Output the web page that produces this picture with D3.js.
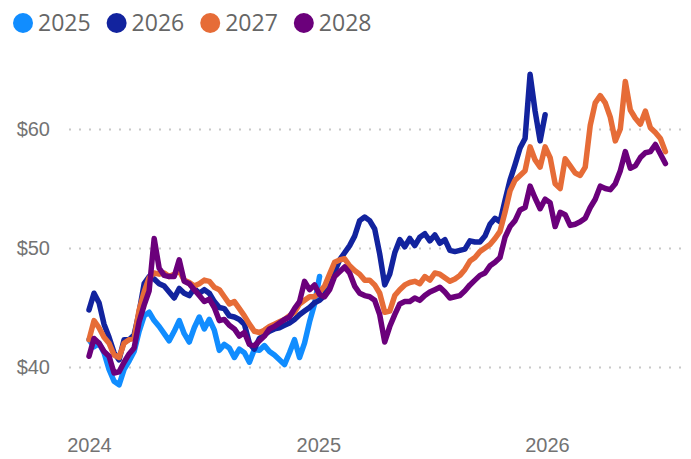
<!DOCTYPE html>
<html>
<head>
<meta charset="utf-8">
<script src="https://cdn.jsdelivr.net/npm/d3@7"></script>
<style>
  body { margin: 0; background: #fff; }
  svg { display: block; font-family: "Segoe UI", "Open Sans", sans-serif; }
</style>
</head>
<body>
<div id="chart"></div>
<script>
var svgWidth = 691;
var svgHeight = 459;

// sample dates (about every 8 days)
var dates = [
  "2024-01-01","2024-01-09","2024-01-17","2024-01-25","2024-02-02","2024-02-10","2024-02-18","2024-02-26",
  "2024-03-05","2024-03-13","2024-03-21","2024-03-29","2024-04-06","2024-04-14","2024-04-22","2024-04-30",
  "2024-05-08","2024-05-16","2024-05-24","2024-06-01","2024-06-09","2024-06-17","2024-06-25","2024-07-03",
  "2024-07-11","2024-07-19","2024-07-27","2024-08-04","2024-08-12","2024-08-20","2024-08-28","2024-09-05",
  "2024-09-13","2024-09-21","2024-09-29","2024-10-07","2024-10-15","2024-10-23","2024-10-31","2024-11-08",
  "2024-11-16","2024-11-24","2024-12-02","2024-12-10","2024-12-18","2024-12-26","2025-01-03","2025-01-11",
  "2025-01-19","2025-01-27","2025-02-04","2025-02-12","2025-02-20","2025-02-28","2025-03-08","2025-03-16",
  "2025-03-24","2025-04-01","2025-04-09","2025-04-17","2025-04-25","2025-05-03","2025-05-11","2025-05-19",
  "2025-05-27","2025-06-04","2025-06-12","2025-06-20","2025-06-28","2025-07-06","2025-07-14","2025-07-22",
  "2025-07-30","2025-08-07","2025-08-15","2025-08-23","2025-08-31","2025-09-08","2025-09-16","2025-09-24",
  "2025-10-02","2025-10-10","2025-10-18","2025-10-26","2025-11-03","2025-11-11","2025-11-19","2025-11-27",
  "2025-12-05","2025-12-13","2025-12-21","2025-12-29","2026-01-06","2026-01-14","2026-01-22","2026-01-30",
  "2026-02-07","2026-02-15","2026-02-23","2026-03-03","2026-03-11","2026-03-19","2026-03-27","2026-04-04",
  "2026-04-12","2026-04-20","2026-04-28","2026-05-06","2026-05-14","2026-05-22","2026-05-30","2026-06-07",
  "2026-06-15","2026-06-23","2026-07-01","2026-07-09"
];

var seriesNames = ["2025", "2026", "2027", "2028"];
var colors = ["#118DFF", "#12239E", "#E66C37", "#6B007B"];

var values2025 = [
  42.3,41.7,42.0,41.2,39.8,38.8,38.5,39.8,40.5,41.3,43.0,44.3,44.6,43.9,43.4,42.8,
  42.2,43.0,43.9,42.8,42.1,43.3,44.2,43.2,44.0,43.1,41.4,41.9,41.6,40.8,41.5,41.2,
  40.4,41.5,41.4,41.8,41.3,41.0,40.6,40.2,41.2,42.3,40.8,42.0,43.8,45.3,47.6
];

var values2026 = [
  44.8,46.2,45.4,43.6,42.5,41.2,40.6,42.3,42.3,42.7,44.6,47.0,47.6,47.4,47.0,46.8,
  46.3,45.8,46.6,46.2,46.0,46.6,46.2,46.5,46.2,45.5,45.0,44.9,44.3,44.2,44.0,43.6,
  42.0,41.5,42.4,42.7,43.0,43.2,43.3,43.5,43.7,44.0,44.4,44.7,45.0,45.4,45.6,46.0,
  47.3,48.0,49.0,49.6,50.2,51.0,52.3,52.6,52.3,51.6,49.5,46.9,47.8,49.6,50.7,50.1,
  50.8,50.2,50.9,51.2,50.6,51.1,50.4,50.7,49.8,49.7,49.8,49.9,50.6,50.5,50.5,51.0,
  52.0,52.5,52.2,54.0,55.7,57.0,58.4,59.2,64.6,61.5,59.0,61.2
];

var values2027 = [
  42.3,43.9,43.3,42.5,42.0,41.0,40.8,42.0,42.3,42.4,44.8,46.3,47.5,47.9,47.8,47.9,
  47.6,47.8,48.1,47.3,47.1,46.8,47.0,47.3,47.2,46.7,46.5,45.9,45.3,45.5,44.9,44.3,
  43.6,43.0,42.9,43.1,43.4,43.6,43.8,44.0,44.3,44.6,45.3,45.6,45.9,45.9,46.3,46.8,
  47.8,48.8,49.0,49.1,48.5,48.1,47.8,47.3,47.3,46.9,46.2,44.6,44.7,46.0,46.5,46.9,
  47.1,47.2,47.0,47.6,47.3,47.9,47.8,47.5,47.2,47.4,47.7,48.2,48.9,49.2,49.7,50.0,
  50.3,50.8,51.4,53.0,54.8,55.7,56.1,56.5,58.5,57.4,56.8,58.5,57.6,55.4,55.0,57.5,
  56.9,56.3,56.1,56.8,60.3,62.2,62.8,62.2,61.0,59.0,60.0,64.0,61.6,60.9,60.4,61.5,
  60.1,59.7,59.2,58.1
];

var values2028 = [
  40.9,42.4,42.0,41.3,40.9,39.5,39.6,40.4,41.1,41.6,43.8,45.2,46.4,50.8,48.3,47.7,
  47.6,47.6,49.0,47.2,47.0,46.5,46.0,45.5,45.7,45.0,43.9,44.0,43.5,43.2,42.6,42.9,
  41.9,41.8,42.2,42.6,43.2,43.4,43.7,44.0,44.2,44.9,45.5,47.2,46.5,46.9,46.1,45.9,
  46.5,47.6,48.0,48.4,47.9,46.8,46.2,46.0,45.9,45.6,44.4,42.1,43.4,44.4,45.3,45.5,
  45.5,45.8,45.6,46.0,46.3,46.5,46.7,46.3,45.8,45.9,46.0,46.4,46.9,47.3,47.7,47.9,
  48.5,48.8,49.2,50.9,51.8,52.3,53.2,53.4,55.2,54.2,53.3,54.1,53.8,51.8,53.0,52.8,
  51.9,52.0,52.2,52.5,53.4,54.1,55.2,55.0,54.9,55.4,56.5,58.1,56.7,56.9,57.6,58.0,
  58.1,58.7,57.9,57.1
];

var xTickLabels = ["2024", "2025", "2026"];
var yTicks = [40, 50, 60];

var allValues = [values2025, values2026, values2027, values2028];
var parseDate = d3.timeParse("%Y-%m-%d");

var seriesData = seriesNames.map(function(name, i) {
  return {
    name: name,
    color: colors[i],
    points: allValues[i].map(function(v, j) {
      return { date: parseDate(dates[j]), value: v };
    })
  };
});

var svg = d3.select("#chart")
  .append("svg")
  .attr("width", svgWidth)
  .attr("height", svgHeight);

// scales
var xScale = d3.scaleTime()
  .domain([parseDate("2024-01-01"), parseDate("2026-01-01")])
  .range([89, 547]);

var yScale = d3.scaleLinear()
  .domain([40, 60])
  .range([367, 129]);

// y axis with dotted gridlines
var gridLeft = 69;
var gridRight = 683;
var yAxis = svg.append("g")
  .attr("transform", `translate(${gridLeft},0)`)
  .call(d3.axisLeft(yScale)
    .tickValues(yTicks)
    .tickSize(-(gridRight - gridLeft))
    .tickPadding(19)
    .tickFormat(d => "$" + d));

yAxis.select(".domain").remove();
yAxis.selectAll(".tick line")
  .attr("stroke", "#c8c8c8")
  .attr("stroke-width", 2)
  .attr("stroke-dasharray", "2,8");
yAxis.selectAll(".tick text")
  .attr("fill", "#737373")
  .attr("font-size", 20)
  .attr("dy", "0.33em");

// x axis
var xAxis = svg.append("g")
  .attr("transform", "translate(0,438)")
  .call(d3.axisBottom(xScale)
    .tickValues(xTickLabels.map(d => parseDate(d + "-01-01")))
    .tickSize(0)
    .tickPadding(0)
    .tickFormat(d3.timeFormat("%Y")));

xAxis.select(".domain").remove();
xAxis.selectAll(".tick text")
  .attr("fill", "#737373")
  .attr("font-size", 20)
  .attr("dy", "0.71em");

// lines
var line = d3.line()
  .x(d => xScale(d.date))
  .y(d => yScale(d.value));

svg.append("g")
  .selectAll("path")
  .data(seriesData)
  .enter()
  .append("path")
  .attr("d", d => line(d.points))
  .attr("fill", "none")
  .attr("stroke", d => d.color)
  .attr("stroke-width", 5.5)
  .attr("stroke-linejoin", "round")
  .attr("stroke-linecap", "round");

// legend
var legend = svg.append("g");
var cursor = 13;
seriesData.forEach(function(s) {
  legend.append("circle")
    .attr("cx", cursor + 10)
    .attr("cy", 23)
    .attr("r", 10)
    .attr("fill", s.color);
  var t = legend.append("text")
    .attr("x", cursor + 25)
    .attr("y", 23)
    .attr("dy", "0.35em")
    .attr("fill", "#666")
    .attr("font-size", 23)
    .text(s.name);
  cursor = cursor + 25 + t.node().getComputedTextLength() + 16;
});
</script>
</body>
</html>
